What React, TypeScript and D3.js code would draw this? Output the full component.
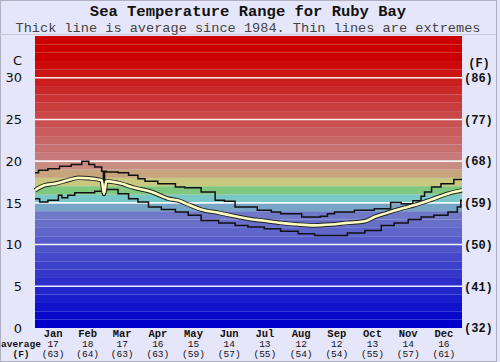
import React from 'react';
import * as d3 from 'd3';

// month labels and the monthly average row under the chart
const months = ['Jan', 'Feb', 'Mar', 'Apr', 'May', 'Jun', 'Jul', 'Aug', 'Sep', 'Oct', 'Nov', 'Dec'];
const monthDays = [31, 28, 31, 30, 31, 30, 31, 31, 30, 31, 30, 31];
const avgC = [17, 18, 17, 16, 15, 14, 13, 12, 12, 13, 14, 16];
const avgF = [63, 64, 63, 63, 59, 57, 55, 54, 54, 55, 57, 61];

const cTicks = [0, 5, 10, 15, 20, 25, 30];
const fTicks = ['(32)', '(41)', '(50)', '(59)', '(68)', '(77)', '(86)'];

// [day of year, deg C]
const maxLine: [number, number][] = [
  [0, 18.6], [3, 18.9], [11, 19.1], [21, 19.4], [31, 19.6], [40, 20.0], [46, 19.6],
  [51, 19.3], [57, 18.8], [58.5, 17.6], [59.5, 18.8], [61, 18.7], [71, 18.6], [80, 18.3],
  [88, 17.9], [94, 17.6], [105, 17.3], [120, 16.9], [128, 16.8], [142, 16.3], [154, 15.3],
  [162, 15.2], [171, 14.5], [182, 14.5], [190, 14.1], [202, 13.9], [210, 13.7], [228, 13.3],
  [244, 13.4], [250, 13.7], [256, 13.9], [273, 14.1], [290, 14.3], [304, 15.05], [313, 14.9],
  [323, 15.25], [330, 15.8], [333, 16.3], [339, 16.9], [347, 17.3], [358, 17.8], [365, 17.8],
];

const minLine: [number, number][] = [
  [0, 15.5], [4, 15.1], [11, 15.3], [20, 15.9], [23, 15.6], [28, 15.9], [34, 16.2],
  [51, 16.4], [58.5, 15.9], [59.5, 16.4], [61, 16.6], [71, 16.1], [80, 15.5], [88, 15.1],
  [97, 14.5], [108, 14.2], [120, 13.9], [131, 13.5], [142, 12.9], [157, 12.6], [171, 12.3],
  [182, 12.1], [196, 11.9], [210, 11.6], [225, 11.3], [239, 11.1], [267, 11.4], [282, 11.7],
  [296, 12.3], [307, 12.6], [319, 13.0], [330, 13.3], [341, 13.5], [353, 13.9], [361, 14.5],
  [364, 15.3], [365, 15.3],
];

const avgLine: [number, number][] = [
  [0, 16.5], [8, 17.1], [17, 17.3], [28, 17.7], [37, 18.0], [46, 17.95], [57, 17.7],
  [59, 16.1], [61, 17.6], [71, 17.4], [85, 16.8], [100, 16.3], [114, 15.5], [122, 15.3],
  [131, 14.8], [142, 14.2], [157, 13.8], [171, 13.4], [182, 13.1], [196, 12.85], [210, 12.6],
  [225, 12.4], [239, 12.3], [253, 12.4], [267, 12.6], [282, 12.8], [290, 13.3], [301, 13.8],
  [313, 14.3], [324, 14.7], [339, 15.4], [353, 16.1], [365, 16.5],
];

// colour of each 1 degree band
const bandStops = [0, 13, 14, 15, 16, 17, 18, 19, 20, 32, 35];
const bandColors = ['#0000cc', '#7078c8', '#78a4c8', '#78c8c8', '#80c880', '#c8c880',
  '#c8a47c', '#c88c80', '#c87a7a', '#cc0000', '#cc0000'];

const W = 500, H = 362;
const left = 35, right = 462, top = 36, bottom = 328;

export default function App() {
  const x = d3.scaleLinear().domain([0, 365]).range([left, right]);
  const y = d3.scaleLinear().domain([0, 35]).range([bottom, top]);
  const band = d3.scaleLinear<string>().domain(bandStops).range(bandColors).interpolate(d3.interpolateRgb);

  const starts = d3.cumsum([0, ...monthDays]);
  const bands = d3.range(0, 35);

  const step = d3.line<[number, number]>().x(d => x(d[0])).y(d => y(d[1])).curve(d3.curveStepAfter);
  const smooth = d3.line<[number, number]>().x(d => x(d[0])).y(d => y(d[1])).curve(d3.curveMonotoneX);

  const mono = '"Liberation Mono", "Courier New", monospace';
  const sans = '"DejaVu Sans", Verdana, sans-serif';

  return (
    <svg width={W} height={H} style={{ position: 'fixed', left: 0, top: 0 }}>
      <rect x={0} y={0} width={W} height={H} fill="#e6e6fa" />
      <rect x={0.5} y={0.5} width={496} height={H - 1} fill="none" stroke="#b0b0c0" />
      <line x1={0} x2={496} y1={34.5} y2={34.5} stroke="#c8c8d8" />

      <text x={248} y={16} textAnchor="middle" fontFamily={mono} fontWeight="bold" fontSize={15.5} fill="#111">
        Sea Temperature Range for Ruby Bay
      </text>
      <text x={248} y={32} textAnchor="middle" fontFamily={mono} fontSize={13.6} fill="#444">
        Thick line is average since 1984. Thin lines are extremes
      </text>

      {bands.map(b => (
        <rect key={b} x={left} width={right - left} y={y(b + 1)} height={y(b) - y(b + 1)} fill={band(b)} />
      ))}

      {starts.slice(1, 12).map((s, i) => (
        <line key={i} x1={x(s) + 0.5} x2={x(s) + 0.5} y1={top} y2={bottom} stroke="#555" strokeOpacity={0.7} />
      ))}

      {cTicks.slice(1).map(t => (
        <line key={t} x1={left} x2={right} y1={y(t)} y2={y(t)} stroke="#fff" strokeOpacity={0.9} strokeWidth={1.6} />
      ))}

      <path d={step(maxLine) ?? ''} fill="none" stroke="#111" strokeWidth={1.5} />
      <path d={step(minLine) ?? ''} fill="none" stroke="#111" strokeWidth={1.5} />
      <path d={smooth(avgLine) ?? ''} fill="none" stroke="#222" strokeWidth={4.5} />
      <path d={smooth(avgLine) ?? ''} fill="none" stroke="#ffffc4" strokeWidth={2.6} />

      <text x={22} y={65} textAnchor="end" fontFamily={sans} fontSize={13} fill="#111">C</text>
      {cTicks.map(t => (
        <text key={t} x={22} y={y(t)} dy="0.36em" textAnchor="end" fontFamily={sans} fontSize={13} fill="#111">{t}</text>
      ))}

      <text x={479} y={67} textAnchor="middle" fontFamily={mono} fontWeight="bold" fontSize={12} fill="#111">(F)</text>
      {fTicks.map((f, i) => (
        <text key={f} x={464} y={y(cTicks[i])} dy="0.36em" fontFamily={mono} fontWeight="bold" fontSize={12} fill="#111">{f}</text>
      ))}

      {months.map((m, i) => {
        const cx = x(starts[i] + monthDays[i] / 2);
        return (
          <g key={m} fontFamily={mono} fill="#111" textAnchor="middle">
            <text x={cx} y={336.5} fontWeight="bold" fontSize={10.5}>{m}</text>
            <text x={cx} y={347} fontSize={9.5}>{avgC[i]}</text>
            <text x={cx} y={357} fontSize={9.5}>({avgF[i]})</text>
          </g>
        );
      })}
      <text x={1} y={347} fontFamily={mono} fontWeight="bold" fontSize={9.5} fill="#111">average</text>
      <text x={21} y={357} textAnchor="middle" fontFamily={mono} fontWeight="bold" fontSize={9.5} fill="#111">(F)</text>
    </svg>
  );
}
